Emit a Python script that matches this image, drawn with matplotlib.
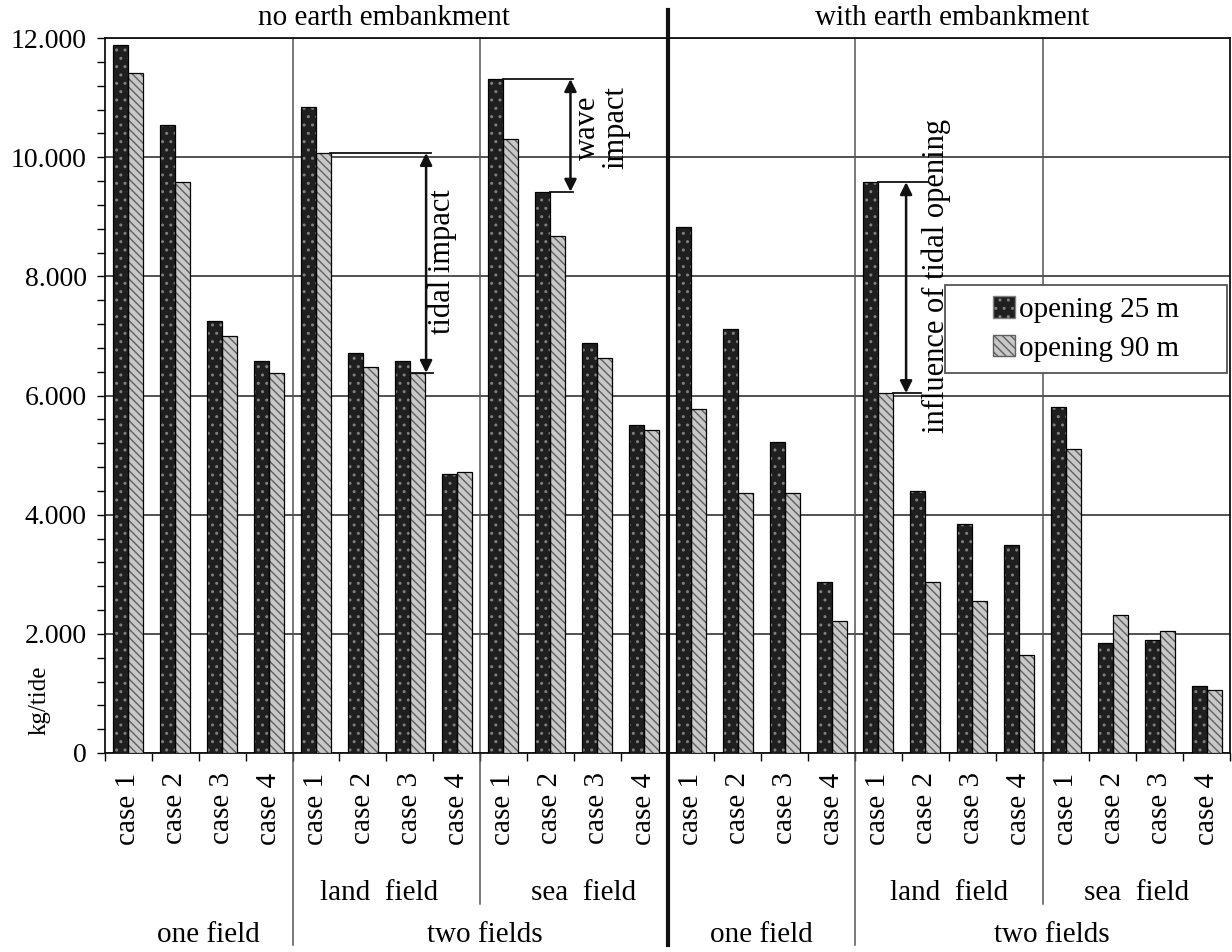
import matplotlib
matplotlib.use("Agg")
import matplotlib.pyplot as plt
import matplotlib.transforms as mtransforms
from matplotlib.patches import Patch, Rectangle
from matplotlib.ticker import FuncFormatter
import numpy as np

plt.rcParams['font.family'] = ['Liberation Serif', 'DejaVu Serif']

# values in kg/tide (24 groups: 2 embankment states x 12 cases)
cases = ["case 1", "case 2", "case 3", "case 4"] * 6
opening_25 = [11880, 10540, 7250, 6580,   # no embankment, one field
              10850, 6720, 6580, 4680,    # no embankment, land field
              11310, 9420, 6880, 5500,    # no embankment, sea field
              8820, 7120, 5220, 2870,     # with embankment, one field
              9580, 4400, 3840, 3490,     # with embankment, land field
              5800, 1840, 1890, 1120]     # with embankment, sea field
opening_90 = [11420, 9590, 7000, 6380,
              10070, 6470, 6380, 4720,
              10300, 8680, 6630, 5420,
              5770, 4370, 4370, 2220,
              6040, 2870, 2550, 1650,
              5100, 2310, 2040, 1060]
series_names = ["opening 25 m", "opening 90 m"]

fig = plt.figure(figsize=(12.32, 9.52), dpi=100)
ax = fig.add_axes([105/1232, 1 - 753/952, 1125/1232, 715/952])

x = np.arange(len(cases)) + 0.5
w = 0.32
dark_face, dark_hatch = "#1f1f1f", "#808080"
light_face, light_hatch = "#c8c8c8", "#606060"

ax.bar(x - w/2, opening_25, w, color=dark_face, hatch="..", edgecolor=dark_hatch, linewidth=0, zorder=3)
ax.bar(x - w/2, opening_25, w, fill=False, edgecolor="#000000", linewidth=0.9, zorder=4)
ax.bar(x + w/2, opening_90, w, color=light_face, hatch="\\\\\\\\", edgecolor=light_hatch, linewidth=0, zorder=3)
ax.bar(x + w/2, opening_90, w, fill=False, edgecolor="#000000", linewidth=0.9, zorder=4)

ax.set_xlim(0, 24)
ax.set_ylim(0, 12000)
ax.set_yticks(np.arange(0, 12001, 2000))
ax.set_yticks(np.arange(0, 12001, 400), minor=True)
ax.yaxis.set_major_formatter(FuncFormatter(lambda v, p: "0" if v == 0 else f"{int(v):,}".replace(",", ".")))
ax.yaxis.grid(True, color="#222222", linewidth=1.1, zorder=1)
ax.tick_params(axis="y", which="both", direction="out", length=6, width=1, labelsize=20, pad=7)

ax.set_xticks(x)
ax.set_xticklabels(cases, rotation=90, fontsize=21, va="top")
ax.set_xticks(np.arange(0, 25), minor=True)
ax.tick_params(axis="x", which="major", length=0, pad=14)
ax.tick_params(axis="x", which="minor", direction="out", length=6, width=1)

for s in ax.spines.values():
    s.set_color("#111111")
    s.set_linewidth(1.3)

trans = mtransforms.blended_transform_factory(ax.transData, ax.transAxes)
# group separators
for xs, y0 in [(4, -0.2685), (8, -0.211), (16, -0.2685), (20, -0.211)]:
    ax.plot([xs, xs], [y0, 1.0], color="#555555", linewidth=1.1, transform=trans, clip_on=False, zorder=2)
ax.plot([12, 12], [-0.2685, 1.039], color="#111111", linewidth=3, transform=trans, clip_on=False, zorder=5)

# headers
ax.text(5.95, 1.028, "no earth embankment", transform=trans, ha="center", va="center", fontsize=21)
ax.text(18.07, 1.028, "with earth embankment", transform=trans, ha="center", va="center", fontsize=21)

# group labels under the axis
for xs, txt in [(5.85, "land  field"), (10.2, "sea  field"), (18.0, "land  field"), (22.0, "sea  field")]:
    ax.text(xs, -0.196, txt, transform=trans, ha="center", va="center", fontsize=21)
for xs, txt in [(2.2, "one field"), (8.1, "two fields"), (14.0, "one field"), (20.2, "two fields")]:
    ax.text(xs, -0.255, txt, transform=trans, ha="center", va="center", fontsize=21)

fig.text(40/1232, 1 - 700/952, "kg/tide", rotation=90, ha="center", va="center", fontsize=18)

# annotations
lk = dict(color="#111111", linewidth=1.3, zorder=6)
ak = dict(arrowstyle="<|-|>", color="#111111", lw=1.8, mutation_scale=18, shrinkA=0, shrinkB=0)

# tidal impact
top, bot = opening_90[4], opening_90[6]
ax.plot([4.81, 6.95], [top, top], **lk)
ax.plot([6.5, 7.0], [bot, bot], **lk)
ax.annotate("", xy=(6.85, bot), xytext=(6.85, top), arrowprops=ak, zorder=6)
ax.text(7.2, 8250, "tidal impact", rotation=90, ha="center", va="center", fontsize=22)

# wave impact
top, bot = opening_25[8], opening_25[9]
ax.plot([8.5, 9.98], [top, top], **lk)
ax.plot([9.5, 9.98], [bot, bot], **lk)
ax.annotate("", xy=(9.93, bot), xytext=(9.93, top), arrowprops=ak, zorder=6)
ax.text(10.6, 10500, "wave\nimpact", rotation=90, ha="center", va="center", fontsize=22,
        multialignment="center", linespacing=0.95)

# influence of tidal opening
top, bot = opening_25[16], opening_90[16]
ax.plot([16.5, 17.55], [top, top], **lk)
ax.plot([16.81, 17.4], [bot, bot], **lk)
ax.annotate("", xy=(17.09, bot), xytext=(17.09, top), arrowprops=ak, zorder=6)
ax.text(17.73, 8000, "influence of tidal opening", rotation=90, ha="center", va="center",
        fontsize=22, zorder=9)

# legend with a wider frame drawn separately
ax.add_patch(Rectangle((0.7467, 0.5315), 0.2506, 0.123, transform=ax.transAxes, facecolor="white",
                       edgecolor="#555555", linewidth=1.3, zorder=7, clip_on=False))
handles = [Patch(facecolor=dark_face, hatch="..", edgecolor=dark_hatch),
           Patch(facecolor=light_face, hatch="\\\\\\\\", edgecolor=light_hatch)]
leg = ax.legend(handles, series_names, loc="center", bbox_to_anchor=(0.872, 0.593), fontsize=21,
                frameon=False, handlelength=0.75, handleheight=0.75,
                handletextpad=0.15, borderpad=0.5, labelspacing=0.4, borderaxespad=0)
leg.set_zorder(8)

fig.savefig("out.png", dpi=100, facecolor="white")
